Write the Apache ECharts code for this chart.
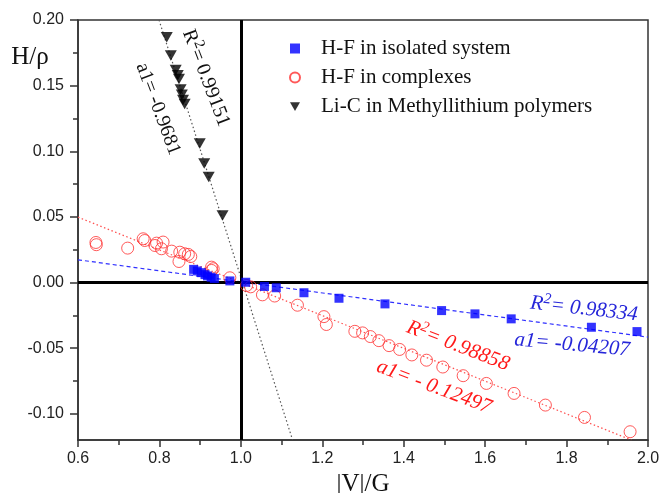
<!DOCTYPE html>
<html><head><meta charset="utf-8">
<script src="https://cdn.jsdelivr.net/npm/echarts@6/dist/echarts.min.js"></script>
<style>html,body{margin:0;padding:0;background:#fff}#c{width:661px;height:493px}</style>
</head><body><div id="c"></div>
<script>
const seriesNames = ['H-F in isolated system', 'H-F in complexes', 'Li-C in Methyllithium polymers'];
const hfIsolated = [[0.884,0.0100],[0.893,0.0088],[0.903,0.0075],[0.912,0.0060],[0.918,0.0050],[0.927,0.0040],[0.935,0.0030],[0.973,0.0012],[1.012,0.0002],[1.058,-0.0030],[1.087,-0.0040],[1.155,-0.0078],[1.241,-0.0120],[1.354,-0.0163],[1.493,-0.0214],[1.575,-0.0239],[1.664,-0.0277],[1.861,-0.0341],[1.973,-0.0374]];
const hfComplexes = [[0.644,0.0305],[0.645,0.0288],[0.722,0.0262],[0.760,0.0333],[0.764,0.0320],[0.789,0.0282],[0.793,0.0300],[0.805,0.0257],[0.809,0.0308],[0.830,0.0239],[0.848,0.0160],[0.850,0.0231],[0.862,0.0219],[0.871,0.0214],[0.877,0.0198],[0.928,0.0117],[0.932,0.0105],[0.928,0.0092],[0.973,0.0036],[1.014,-0.0023],[1.024,-0.0033],[1.053,-0.0094],[1.083,-0.0103],[1.139,-0.0173],[1.204,-0.0260],[1.210,-0.0320],[1.280,-0.0372],[1.299,-0.0384],[1.318,-0.0412],[1.339,-0.0443],[1.364,-0.0481],[1.390,-0.0510],[1.420,-0.0552],[1.456,-0.0592],[1.496,-0.0644],[1.546,-0.0710],[1.603,-0.0769],[1.671,-0.0845],[1.748,-0.0934],[1.844,-0.1028],[1.956,-0.1137]];
const liC = [[0.818,0.1868],[0.828,0.1730],[0.840,0.1620],[0.845,0.1580],[0.848,0.1550],[0.852,0.1470],[0.855,0.1430],[0.858,0.1390],[0.862,0.1360],[0.899,0.1060],[0.910,0.0906],[0.921,0.0804],[0.955,0.0511]];
const fitIsolated = [[0.6,0.0173],[2.0,-0.0416]];
const fitComplexes = [[0.6,0.0498],[1.959,-0.12]];
const fitLiC = [[0.799,0.2],[1.127,-0.12]];
const xRange = [0.6, 2.0];
const yRange = [-0.12, 0.20];
const yTicks = [-0.10,-0.05,0,0.05,0.10,0.15,0.20];
const yMinorTicks = [-0.075,-0.025,0.025,0.075,0.125,0.175];
const refLines = {x: 1.0, y: 0};

const serif = 'Liberation Serif, Times New Roman, serif';
const sans = 'Liberation Sans, Arial, sans-serif';
const chart = echarts.init(document.getElementById('c'));

function sup(parts, color, italic, size) {
  const st = italic ? 'italic' : 'normal';
  return {
    text: '{r|R}{s|2}{r|' + parts + '}',
    fill: color,
    rich: {
      r: {fontFamily: serif, fontSize: size, fontStyle: st, fill: color, lineHeight: 26},
      s: {fontFamily: serif, fontSize: 15, fontStyle: st, fill: color, lineHeight: 15, padding: [0,0,11,0]}
    },
    align: 'center', verticalAlign: 'middle'
  };
}
function plain(t, color, italic, size) {
  return {text: t, fill: color, fontFamily: serif, fontSize: size, fontStyle: italic ? 'italic' : 'normal', align: 'center', verticalAlign: 'middle'};
}
const deg = Math.PI / 180;

chart.setOption({
  animation: false,
  backgroundColor: '#fff',
  grid: {left: 78, right: 13, top: 20, bottom: 53, show: true, borderColor: '#333', borderWidth: 1.5, backgroundColor: 'transparent', containLabel: false, outerBoundsMode: 'none'},
  legend: {
    left: 284, top: 33, orient: 'vertical', itemWidth: 10, itemHeight: 10, itemGap: 8,
    data: seriesNames,
    textStyle: {fontFamily: serif, fontSize: 21, color: '#111', lineHeight: 20, padding: [0, 0, 0, 16]}
  },
  xAxis: [{
    type: 'value', min: xRange[0], max: xRange[1], interval: 0.2,
    name: '|V|/G', nameLocation: 'middle', nameGap: 21,
    nameTextStyle: {fontFamily: serif, fontSize: 25, color: '#111'},
    axisLine: {show: true, onZero: false, lineStyle: {color: '#333', width: 1.5}},
    axisTick: {show: true, length: 7, lineStyle: {color: '#333', width: 1.5}},
    minorTick: {show: true, splitNumber: 2, length: 5, lineStyle: {color: '#333', width: 1.5}},
    axisLabel: {fontFamily: sans, fontSize: 16, color: '#222', margin: 11, formatter: v => v.toFixed(1)},
    splitLine: {show: false}, minorSplitLine: {show: false}
  }],
  yAxis: [{
    type: 'value', min: yRange[0], max: yRange[1], position: 'left',
    axisLine: {show: true, onZero: false, lineStyle: {color: '#333', width: 1.5}},
    axisTick: {show: true, length: 8, customValues: yTicks, lineStyle: {color: '#333', width: 1.5}},
    axisLabel: {fontFamily: sans, fontSize: 16, color: '#222', margin: 14, customValues: yTicks, formatter: v => v.toFixed(2)},
    splitLine: {show: false}
  }, {
    type: 'value', min: yRange[0], max: yRange[1], position: 'left', offset: 0,
    axisLine: {show: false},
    axisTick: {show: true, length: 5, customValues: yMinorTicks, lineStyle: {color: '#333', width: 1.5}},
    axisLabel: {show: false},
    splitLine: {show: false}
  }],
  graphic: [
    {type: 'text', x: 30, y: 57, style: plain('H/\u03c1', '#111', false, 25), z: 100},
    {type: 'text', x: 206, y: 78, rotation: -69 * deg, style: sup('= 0.99151', '#111', false, 20), z: 100},
    {type: 'text', x: 158, y: 109, rotation: -69.5 * deg, style: plain('a1= -0.9681', '#111', false, 20), z: 100},
    {type: 'text', x: 584, y: 309, rotation: -6.4 * deg, style: sup('= 0.98334', '#2626d9', true, 21), z: 100},
    {type: 'text', x: 572, y: 345, rotation: -5.2 * deg, style: plain('a1= -0.04207', '#2626d9', true, 21), z: 100},
    {type: 'text', x: 458, y: 346, rotation: -21 * deg, style: sup('= 0.98858', '#ff1a1a', true, 21), z: 100},
    {type: 'text', x: 434, y: 387, rotation: -20.5 * deg, style: plain('a1= - 0.12497', '#ff1a1a', true, 21), z: 100}
  ],
  series: [
    {
      name: seriesNames[0], type: 'scatter', data: hfIsolated, symbol: 'rect', symbolSize: 9, z: 6,
      itemStyle: {color: '#0000ff'}
    },
    {
      name: seriesNames[1], type: 'scatter', data: hfComplexes, symbol: 'circle', symbolSize: 12, z: 5,
      itemStyle: {color: 'rgba(255,255,255,0)', borderColor: '#ff3030', borderWidth: 1}
    },
    {
      name: seriesNames[2], type: 'scatter', data: liC, symbol: 'path://M0,0L2,0L1,1.75Z', symbolSize: [12, 10.5], z: 6,
      itemStyle: {color: '#000'}
    },
    {
      type: 'line', data: fitIsolated, symbol: 'none', z: 3, silent: true,
      lineStyle: {color: '#3030ff', width: 1.2, type: [4, 3]},
      markLine: {
        silent: true, symbol: 'none', label: {show: false}, animation: false,
        lineStyle: {color: '#000', width: 3, type: 'solid'},
        data: [{xAxis: refLines.x}, {yAxis: refLines.y}]
      }
    },
    {
      type: 'line', data: fitComplexes, symbol: 'none', z: 3, silent: true,
      lineStyle: {color: '#ff5050', width: 1.2, type: [1.5, 2.5]}
    },
    {
      type: 'line', data: fitLiC, symbol: 'none', z: 3, silent: true,
      lineStyle: {color: '#555', width: 1.2, type: [1.5, 2.5]}
    }
  ]
});
</script>
</body></html>
